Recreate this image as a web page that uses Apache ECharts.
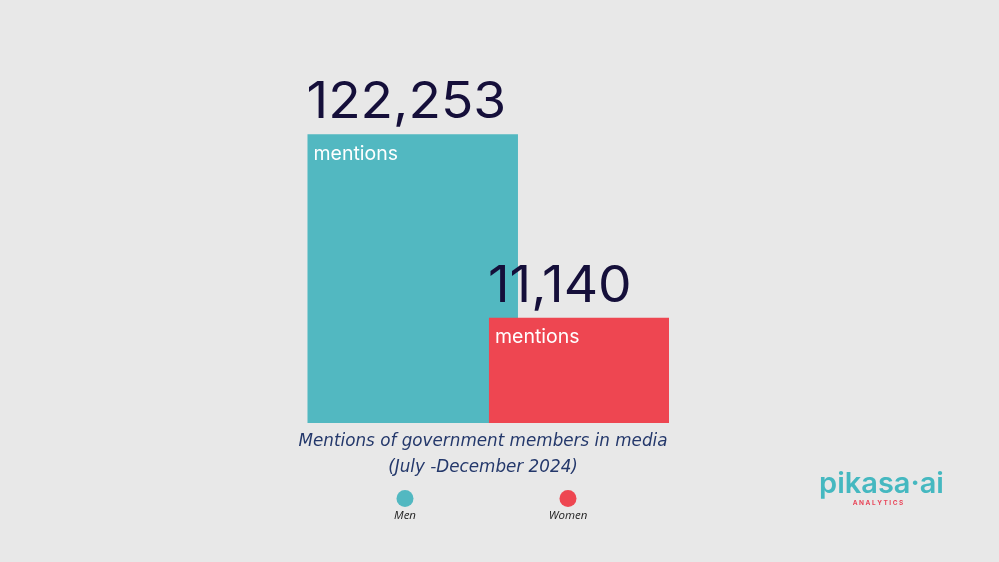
<!DOCTYPE html>
<html><head><meta charset="utf-8">
<script src="https://cdn.jsdelivr.net/npm/echarts@6/dist/echarts.min.js"></script>
<style>html,body{margin:0;padding:0;background:#e8e8e8}#chart{width:999px;height:562px}</style>
</head><body><div id="chart"></div>
<script>
// ---- data ----
const categories = ['Men', 'Women'];
const mentions = [122253, 11140];
const unitLabel = 'mentions';
const titleLines = ['Mentions of government members in media', '(July -December 2024)'];

// ---- styles ----
const colors = ['#52b8c1', '#ee4651'];
const widthFactors = [1.266, 1.083];
const yMin = 2816;
const numFont = 'Inter, Roboto, sans-serif';

const chart = echarts.init(document.getElementById('chart'), null, { renderer: 'canvas' });
const fmt = v => Number(v).toLocaleString('en-US');

const legendX = [405, 568];
const legendGraphics = [];
categories.forEach((c, i) => {
  legendGraphics.push({ type: 'circle', shape: { cx: legendX[i], cy: 498.5, r: 8.5 }, style: { fill: colors[i] } });
  legendGraphics.push({ type: 'text', x: legendX[i], y: 515.5, style: { text: c, fill: '#222222', font: 'italic 11.5px "Open Sans", sans-serif', align: 'center', verticalAlign: 'middle' } });
});

const option = {
  backgroundColor: '#e8e8e8',
  animation: false,
  title: {
    text: titleLines.join('\n'),
    left: 478, top: 424, textAlign: 'center',
    textStyle: { fontFamily: '"DejaVu Sans", sans-serif', fontStyle: 'italic', fontWeight: 'normal', fontSize: 16.8, lineHeight: 26, color: '#24386b' }
  },
  grid: { left: 329.6, right: 336.9, top: 134.3, bottom: 139 },
  xAxis: { type: 'category', data: categories, show: false },
  yAxis: { type: 'log', min: yMin, max: mentions[0], show: false },
  series: [{
    type: 'custom',
    clip: false,
    data: categories.map((c, i) => [i, mentions[i]]),
    renderItem: function (params, api) {
      const i = api.value(0);
      const v = api.value(1);
      const top = api.coord([i, v]);
      const base = api.coord([i, yMin]);
      const band = api.coord([1, v])[0] - api.coord([0, v])[0];
      const w = band * widthFactors[i];
      const x = top[0] - w / 2;
      return {
        type: 'group',
        children: [
          { type: 'rect', shape: { x: x, y: top[1], width: w, height: base[1] - top[1] }, style: { fill: colors[i] } },
          { type: 'text', x: x - 1, y: top[1] - 31, scaleX: 1.065, style: { text: fmt(v), fill: '#150f3a', font: '400 50px ' + numFont, align: 'left', verticalAlign: 'middle' } },
          { type: 'text', x: x + 6, y: top[1] + 19.5, style: { text: unitLabel, fill: '#ffffff', font: '400 19.5px ' + numFont, align: 'left', verticalAlign: 'middle' } }
        ]
      };
    }
  }],
  graphic: legendGraphics.concat([
    { type: 'text', x: 881.5, y: 484, style: { text: 'pikasa·ai', fill: '#45b8c0', font: '600 29px Inter, sans-serif', align: 'center', verticalAlign: 'middle' } },
    { type: 'text', x: 878, y: 503, style: { text: 'A N A L Y T I C S', fill: '#e8475a', font: 'bold 6.5px Inter, sans-serif', align: 'center', verticalAlign: 'middle' } }
  ])
};
chart.setOption(option);
</script></body></html>
